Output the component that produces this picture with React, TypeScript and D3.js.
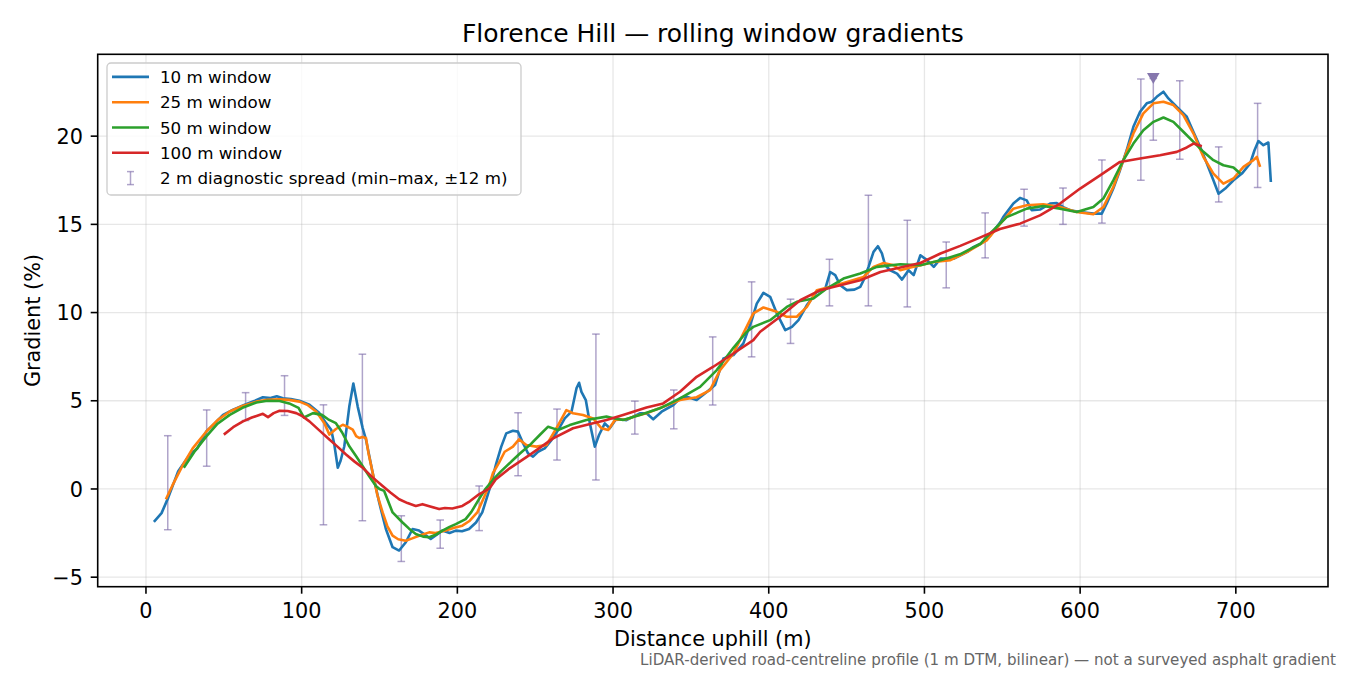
import * as d3 from "d3";

// rolling-window gradient readings, [distance m, gradient %]
const win10: [number, number][] = [
  [5.1, -1.86], [10, -1.37], [14.3, -0.49], [20.7, 1.0], [28.2, 1.95], [33, 2.3], [38.8, 3.26], [44, 3.7],
  [49.5, 4.2], [56, 4.5], [63.4, 4.77], [70, 5.0], [75.1, 5.2], [80, 5.15], [84, 5.25], [88, 5.14],
  [93, 5.1], [98.6, 5.0], [105, 4.77], [111.4, 4.3], [115.7, 3.73], [119, 3.36], [121, 2.5], [123.2, 1.2],
  [125, 1.6], [127.4, 2.42], [130.6, 4.67], [133.2, 5.98], [136, 4.67], [139.2, 3.45], [141.3, 2.8], [145.6, 0.92],
  [149.8, -0.77], [154.1, -2.27], [158.4, -3.3], [162.6, -3.49], [166.9, -3.02], [171.2, -2.27], [175.4, -2.36], [182.9, -2.83],
  [190.4, -2.36], [195, -2.5], [199, -2.36], [203, -2.4], [207.5, -2.27], [212, -1.9], [216, -1.33], [220.7, 0.0],
  [225, 1.45], [228.2, 2.4], [231.4, 3.15], [235.7, 3.3], [238.9, 3.25], [242.2, 2.59], [245.4, 2.02], [248.6, 1.83],
  [251.8, 2.11], [256.1, 2.3], [260.4, 2.77], [264.7, 3.34], [269, 4.0], [273.3, 4.38], [276.5, 5.7], [278.2, 6.02],
  [279.7, 5.5], [282.5, 5.04], [285.1, 3.72], [288.3, 2.4], [291, 3.06], [294.7, 3.72], [297.9, 3.44], [302.2, 4.0],
  [308.6, 3.9], [313, 4.1], [317.2, 4.29], [321.5, 4.29], [325.8, 3.95], [331.2, 4.38], [338.7, 4.76], [343, 5.14],
  [347.3, 5.23], [353.7, 5.04], [360.2, 5.5], [365.5, 5.89], [370.9, 7.4], [377.3, 7.59], [383.7, 8.25], [389.1, 9.57],
  [392.3, 10.51], [396.6, 11.12], [400.9, 10.89], [405.2, 9.95], [410.6, 9.0], [414.9, 9.19], [419.1, 9.57], [424.5, 10.42],
  [430.9, 11.17], [436.3, 11.36], [439.5, 12.3], [442.7, 12.12], [445.9, 11.55], [450.2, 11.27], [455, 11.3], [458.8, 11.46],
  [460.9, 11.83], [464.1, 12.59], [467.3, 13.44], [470.1, 13.76], [472.7, 13.35], [474.8, 12.68], [478, 12.4], [482.4, 12.21],
  [485.6, 11.87], [489.8, 12.4], [493.1, 12.12], [497.4, 13.25], [501.7, 12.97], [506, 12.59], [510.3, 13.06], [518.9, 13.06],
  [527.5, 13.44], [531.4, 13.71], [536.1, 13.91], [540, 14.19], [542.5, 14.38], [548.9, 15.14], [550.6, 15.41], [557.1, 16.18],
  [561.4, 16.5], [565.7, 16.36], [568.9, 15.8], [574.2, 15.84], [580.7, 16.18], [585, 16.21], [589.2, 15.98], [593.5, 15.8],
  [600, 15.7], [608.5, 15.61], [613.9, 15.61], [617.1, 16.18], [621.3, 17.03], [625.6, 18.07], [629.9, 19.2], [634.2, 20.53],
  [638.5, 21.38], [642.8, 21.86], [646, 21.95], [649.2, 22.23], [653.5, 22.52], [656.7, 22.14], [662.1, 21.66], [668.5, 21.1],
  [672.8, 20.24], [677.1, 19.39], [681.4, 18.45], [685.6, 17.5], [688.9, 16.74], [693.2, 17.03], [698.5, 17.5], [703.9, 17.88],
  [709.2, 18.45], [712, 19.2], [714.5, 19.72], [717.7, 19.49], [720.9, 19.64], [722.5, 17.4],
];

const win25: [number, number][] = [
  [12.8, -0.58], [17, 0.2], [23.9, 1.39], [30, 2.3], [38.8, 3.26], [46, 3.9], [53.8, 4.39], [62, 4.7],
  [70.9, 4.95], [78, 5.05], [85.8, 5.08], [92, 5.05], [98.6, 4.95], [104, 4.75], [109.3, 4.39], [114.6, 3.73],
  [117.8, 3.08], [122, 3.4], [126.4, 3.64], [129, 3.55], [132.8, 3.36], [135, 3.0], [137, 2.89], [139, 2.95],
  [141.3, 2.89], [143, 2.0], [145.6, 0.92], [148.5, -0.3], [152, -1.33], [155, -2.1], [158.4, -2.65], [162, -2.85],
  [166.9, -2.93], [171, -2.8], [175.4, -2.65], [181.9, -2.46], [186, -2.5], [192.5, -2.36], [198, -2.2], [203.2, -2.08],
  [208, -1.8], [212.8, -1.33], [216.5, -0.6], [220.3, 0.17], [222.8, 0.89], [226.7, 1.48], [230.4, 2.11], [235.7, 2.4],
  [239.6, 2.81], [244.3, 2.49], [250.7, 2.4], [257.2, 2.49], [263.6, 3.44], [270, 4.47], [274.3, 4.29], [280.7, 4.19],
  [287.2, 4.0], [292.6, 3.44], [296.9, 3.34], [301.2, 3.91], [308.7, 3.95], [315, 4.15], [321.5, 4.29], [326, 4.45],
  [332.2, 4.66], [343, 5.04], [353.7, 5.2], [362.3, 5.6], [368.7, 6.74], [377.3, 7.68], [383.7, 8.82], [390.1, 9.95],
  [396.6, 10.29], [405.2, 10.04], [411.6, 9.76], [418, 9.76], [424.5, 10.32], [430.9, 11.27], [441.6, 11.5], [450.2, 11.74],
  [460.9, 12.02], [467.3, 12.59], [473.8, 12.81], [480.2, 12.68], [484.5, 12.4], [491, 12.55], [497.4, 12.68], [506, 12.87],
  [516.7, 12.97], [527.5, 13.44], [540, 14.09], [550.6, 15.23], [557.1, 15.89], [565.7, 16.08], [576.3, 16.14], [587.1, 15.98],
  [597.8, 15.7], [608.5, 15.57], [614.9, 15.98], [621.3, 17.12], [627.8, 18.64], [634.2, 20.15], [640.6, 21.29], [647.1, 21.86],
  [653.5, 21.95], [659.9, 21.76], [666.3, 21.19], [672.8, 20.15], [679.2, 18.82], [685.6, 17.88], [692, 17.31], [698.5, 17.6],
  [704.9, 18.26], [711.3, 18.64], [713.5, 18.82], [715.6, 18.26],
];

const win50: [number, number][] = [
  [24.3, 1.2], [31, 2.1], [38.8, 2.98], [46, 3.7], [53.8, 4.2], [62, 4.6], [70.9, 4.9], [78, 5.0],
  [85.8, 4.99], [92, 4.85], [98, 4.6], [101.5, 4.05], [107.3, 4.3], [113, 4.2], [117, 3.95], [122, 3.73],
  [126, 3.2], [130.6, 2.42], [135, 1.85], [139.2, 1.29], [143.5, 0.7], [147.7, 0.17], [150, 0.0], [153, -0.11],
  [156, -0.8], [158.4, -1.33], [164.8, -1.9], [169, -2.25], [173.3, -2.55], [178, -2.7], [181.9, -2.74], [186, -2.6],
  [190.4, -2.36], [195, -2.15], [199, -1.99], [205.3, -1.71], [209, -1.3], [213.9, -0.58], [218, 0.0], [222.8, 0.51],
  [228, 1.0], [235.7, 1.64], [240, 2.0], [246.5, 2.49], [252.9, 3.06], [258.3, 3.53], [261, 3.45], [264.7, 3.34],
  [272.2, 3.62], [282.9, 3.91], [295.8, 4.1], [301, 4.0], [306.4, 3.91], [317.2, 4.19], [330.1, 4.57], [343, 5.14],
  [355.9, 5.79], [366.6, 6.74], [377.3, 8.0], [385.9, 8.91], [390.1, 9.19], [400.9, 9.57], [411.6, 10.32], [418, 10.61],
  [428.7, 10.8], [437.3, 11.36], [448, 11.93], [458.8, 12.21], [469.5, 12.59], [484.5, 12.74], [497.4, 12.68], [510.3, 12.97],
  [522.8, 13.3], [536.1, 13.9], [540, 14.3], [552.8, 15.41], [565.7, 15.89], [576.3, 16.04], [587.1, 15.89], [597.8, 15.7],
  [608.5, 15.98], [614.9, 16.46], [621.3, 17.5], [627.8, 18.64], [634.2, 19.58], [640.6, 20.34], [647.1, 20.81], [653.5, 21.06],
  [659.9, 20.81], [666.3, 20.25], [672.8, 19.68], [679.2, 19.11], [685.6, 18.64], [692, 18.35], [698.5, 18.22], [702.8, 17.88],
];

const win100: [number, number][] = [
  [50, 3.08], [56, 3.5], [62.3, 3.83], [68, 4.05], [75.1, 4.26], [78.4, 4.07], [82, 4.3], [85.8, 4.43],
  [91, 4.42], [96.5, 4.3], [100, 4.15], [105, 3.83], [111, 3.35], [117.8, 2.8], [123, 2.4], [128.5, 1.95],
  [134, 1.55], [139.2, 1.2], [145, 0.7], [152, 0.17], [157, -0.2], [162.6, -0.58], [168, -0.8], [173.3, -0.96],
  [177.6, -0.86], [182, -0.98], [188.3, -1.14], [192, -1.08], [196.8, -1.11], [203.2, -0.96], [208, -0.7], [213.9, -0.3],
  [220.7, 0.04], [224.6, 0.54], [233.6, 1.17], [246.5, 1.93], [261.5, 2.87], [274.3, 3.44], [287.2, 3.72], [295.8, 3.91],
  [306.4, 4.19], [321.5, 4.62], [332.2, 4.85], [343, 5.51], [353.7, 6.36], [364.4, 6.93], [377.3, 7.68], [390.1, 8.44],
  [394.5, 8.91], [407.3, 9.76], [420.2, 10.7], [433.1, 11.27], [445.9, 11.55], [458.8, 11.83], [471.7, 12.3], [484.5, 12.55],
  [497.4, 12.81], [510.3, 13.35], [523, 13.78], [535.6, 14.25], [548.5, 14.74], [561.4, 15.04], [574.2, 15.51], [587.1, 16.18],
  [600, 17.03], [612.8, 17.78], [625.6, 18.54], [638.5, 18.73], [651.3, 18.92], [662.1, 19.11], [668.5, 19.36], [672.8, 19.58],
  [678.2, 19.43],
];

// 2 m diagnostic spread: [distance, min, max]
const spread: [number, number, number][] = [
  [14, -2.31, 3.02], [39, 1.29, 4.48], [64, 3.88, 5.46], [89, 4.17, 6.42], [114, -2.03, 4.77],
  [139, -1.8, 7.64], [164, -4.11, -1.52], [189, -3.36, -1.76], [214, -2.36, 0.17], [239, 0.75, 4.32],
  [264, 1.64, 4.53], [289, 0.51, 8.78], [314, 3.11, 4.98], [339, 3.41, 5.61], [364, 4.76, 8.62],
  [389, 7.49, 11.74], [414, 8.25, 10.76], [439, 10.38, 13.02], [464, 10.38, 16.65], [489, 10.32, 15.23],
  [514, 11.4, 14.0], [539, 13.1, 15.65], [564, 14.9, 16.99], [589, 15.0, 17.06], [614, 15.07, 18.65],
  [639, 17.5, 23.24], [664, 18.69, 23.14], [689, 16.27, 19.39], [714, 17.09, 21.86],
];
const steepest: [number, number, number] = [647, 19.77, 23.27];

const series = [
  { label: "10 m window", color: "#1f77b4", data: win10 },
  { label: "25 m window", color: "#ff7f0e", data: win25 },
  { label: "50 m window", color: "#2ca02c", data: win50 },
  { label: "100 m window", color: "#d62728", data: win100 },
];
const xTicks = [0, 100, 200, 300, 400, 500, 600, 700];
const yTicks = [-5, 0, 5, 10, 15, 20];

const W = 1350, H = 675;
const box = { left: 97.7, top: 54.3, right: 1328, bottom: 586.7 };
const font = "DejaVu Sans, sans-serif";
const spreadColor = "#7a68a6";

export default function App() {
  const x = d3.scaleLinear().domain([-31, 759.2]).range([box.left, box.right]);
  const y = d3.scaleLinear().domain([-5.54, 24.64]).range([box.bottom, box.top]);
  const line = d3.line<[number, number]>().x(d => x(d[0])).y(d => y(d[1]));
  const cap = 3.8;

  const errBar = (d: [number, number, number], key: string | number) => (
    <g key={key} stroke={spreadColor} strokeOpacity={0.6} strokeWidth={1.5}>
      <line x1={x(d[0])} x2={x(d[0])} y1={y(d[1])} y2={y(d[2])} />
      <line x1={x(d[0]) - cap} x2={x(d[0]) + cap} y1={y(d[1])} y2={y(d[1])} />
      <line x1={x(d[0]) - cap} x2={x(d[0]) + cap} y1={y(d[2])} y2={y(d[2])} />
    </g>
  );

  const mx = x(steepest[0]), my = y(steepest[2]);
  const rows = [76.9, 102.2, 127.5, 152.8, 178.1];

  return (
    <div>
      <style>{`body{margin:0}`}</style>
      <svg width={W} height={H} style={{ display: "block", background: "#fff" }} fontFamily={font}>
        {/* grid */}
        <g stroke="#b0b0b0" strokeOpacity={0.3} strokeWidth={1.3}>
          {xTicks.map(t => <line key={"gx" + t} x1={x(t)} x2={x(t)} y1={box.top} y2={box.bottom} />)}
          {yTicks.map(t => <line key={"gy" + t} x1={box.left} x2={box.right} y1={y(t)} y2={y(t)} />)}
        </g>

        {spread.map((d, i) => errBar(d, i))}
        {errBar(steepest, "steep")}

        {series.map(s => (
          <path key={s.label} d={line(s.data) || ""} fill="none" stroke={s.color} strokeWidth={2.6} strokeLinejoin="round" />
        ))}

        <path d={`M${mx - 6.3},${my - 5.5}L${mx + 6.3},${my - 5.5}L${mx},${my + 5.5}Z`} fill="#8677ad" />

        {/* axes frame */}
        <rect x={box.left} y={box.top} width={box.right - box.left} height={box.bottom - box.top} fill="none" stroke="#000" strokeWidth={1.6} />
        {xTicks.map(t => (
          <g key={"xt" + t}>
            <line x1={x(t)} x2={x(t)} y1={box.bottom} y2={box.bottom + 7} stroke="#000" strokeWidth={1.6} />
            <text x={x(t)} y={618} textAnchor="middle" fontSize={20.8}>{t}</text>
          </g>
        ))}
        {yTicks.map(t => (
          <g key={"yt" + t}>
            <line x1={box.left - 7} x2={box.left} y1={y(t)} y2={y(t)} stroke="#000" strokeWidth={1.6} />
            <text x={83} y={y(t) + 7.6} textAnchor="end" fontSize={20.8}>{t < 0 ? "\u2212" + Math.abs(t) : t}</text>
          </g>
        ))}

        <text x={(box.left + box.right) / 2} y={42} textAnchor="middle" fontSize={25}>Florence Hill — rolling window gradients</text>
        <text x={(box.left + box.right) / 2} y={646} textAnchor="middle" fontSize={20.8}>Distance uphill (m)</text>
        <text transform={`translate(40,${(box.top + box.bottom) / 2}) rotate(-90)`} textAnchor="middle" fontSize={20.8}>Gradient (%)</text>
        <text x={1336} y={665} textAnchor="end" fontSize={15.1} fill="#666">LiDAR-derived road-centreline profile (1 m DTM, bilinear) — not a surveyed asphalt gradient</text>

        {/* legend */}
        <rect x={107} y={63} width={414} height={132} rx={4} fill="#fff" fillOpacity={0.8} stroke="#cccccc" strokeWidth={1.3} />
        {series.map((s, i) => (
          <g key={"lg" + s.label}>
            <line x1={112} x2={149} y1={rows[i]} y2={rows[i]} stroke={s.color} strokeWidth={2.6} />
            <text x={160} y={rows[i] + 6} fontSize={16.7}>{s.label}</text>
          </g>
        ))}
        <g stroke={spreadColor} strokeOpacity={0.6} strokeWidth={1.5}>
          <line x1={130.5} x2={130.5} y1={rows[4] - 6.5} y2={rows[4] + 6.5} />
          <line x1={127} x2={134} y1={rows[4] - 6.5} y2={rows[4] - 6.5} />
          <line x1={127} x2={134} y1={rows[4] + 6.5} y2={rows[4] + 6.5} />
        </g>
        <text x={160} y={rows[4] + 6} fontSize={16.7}>2 m diagnostic spread (min–max, ±12 m)</text>
      </svg>
    </div>
  );
}
